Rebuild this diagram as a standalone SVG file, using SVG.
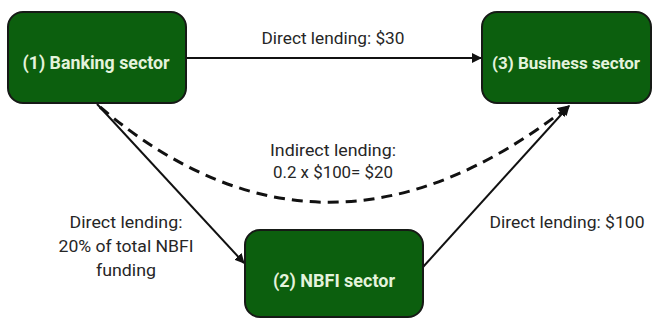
<svg xmlns="http://www.w3.org/2000/svg" width="653" height="320" viewBox="0 0 653 320">
<style>
.node rect{fill:#0c5f0e;stroke:#161a16;stroke-width:2}
.node text{font-family:"Roboto","Liberation Sans",sans-serif;font-weight:bold;font-size:19px;fill:#e4f3dc;text-anchor:middle}
.lbl{font-family:"Roboto","Liberation Sans",sans-serif;font-size:17px;fill:#262626;text-anchor:middle}
.edge{fill:none;stroke:#111;stroke-width:2}
.dash{stroke-width:3;stroke-dasharray:11 7}
</style>
<defs>
<marker id="ah" viewBox="0 0 10 10" refX="9" refY="5" markerWidth="10" markerHeight="10" markerUnits="userSpaceOnUse" orient="auto">
<path d="M0,0 L10,5 L0,10 z" fill="#111"/>
</marker>
<marker id="ah2" viewBox="0 0 10 10" refX="9" refY="5" markerWidth="12" markerHeight="12" markerUnits="userSpaceOnUse" orient="auto">
<path d="M0,0 L10,5 L0,10 z" fill="#111"/>
</marker>
</defs>
<rect width="653" height="320" fill="#fff"/>
<g id="connectors">
<path class="edge" d="M186,58 L481,58" marker-end="url(#ah)"/>
<path class="edge" d="M97,104 L244,263" marker-end="url(#ah)"/>
<path class="edge dash" d="M100,107 Q325,298 569,106" marker-end="url(#ah2)"/>
<path class="edge" d="M423,267 L569,106" marker-end="url(#ah)"/>
<text class="lbl" x="333" y="44" textLength="143" lengthAdjust="spacingAndGlyphs">Direct lending: $30</text>
<text class="lbl" x="333" y="156" textLength="126" lengthAdjust="spacingAndGlyphs">Indirect lending:</text>
<text class="lbl" x="333" y="178" textLength="120" lengthAdjust="spacingAndGlyphs">0.2 x $100= $20</text>
<text class="lbl" x="126" y="228" textLength="113" lengthAdjust="spacingAndGlyphs">Direct lending:</text>
<text class="lbl" x="126" y="252" textLength="135" lengthAdjust="spacingAndGlyphs">20% of total NBFI</text>
<text class="lbl" x="126" y="276" textLength="60" lengthAdjust="spacingAndGlyphs">funding</text>
<text class="lbl" x="567" y="228" textLength="155" lengthAdjust="spacingAndGlyphs">Direct lending: $100</text>
</g>
<g id="node1" class="node">
<rect x="8" y="12" width="178" height="91" rx="15"/>
<text x="96" y="69" textLength="147" lengthAdjust="spacingAndGlyphs">(1) Banking sector</text>
</g>
<g id="node3" class="node">
<rect x="482" y="12" width="169" height="91" rx="15"/>
<text x="566" y="69" style="font-size:17px" textLength="148" lengthAdjust="spacingAndGlyphs">(3) Business sector</text>
</g>
<g id="node2" class="node">
<rect x="245" y="230" width="178" height="87" rx="15"/>
<text x="334" y="287" textLength="122" lengthAdjust="spacingAndGlyphs">(2) NBFI sector</text>
</g>
</svg>
